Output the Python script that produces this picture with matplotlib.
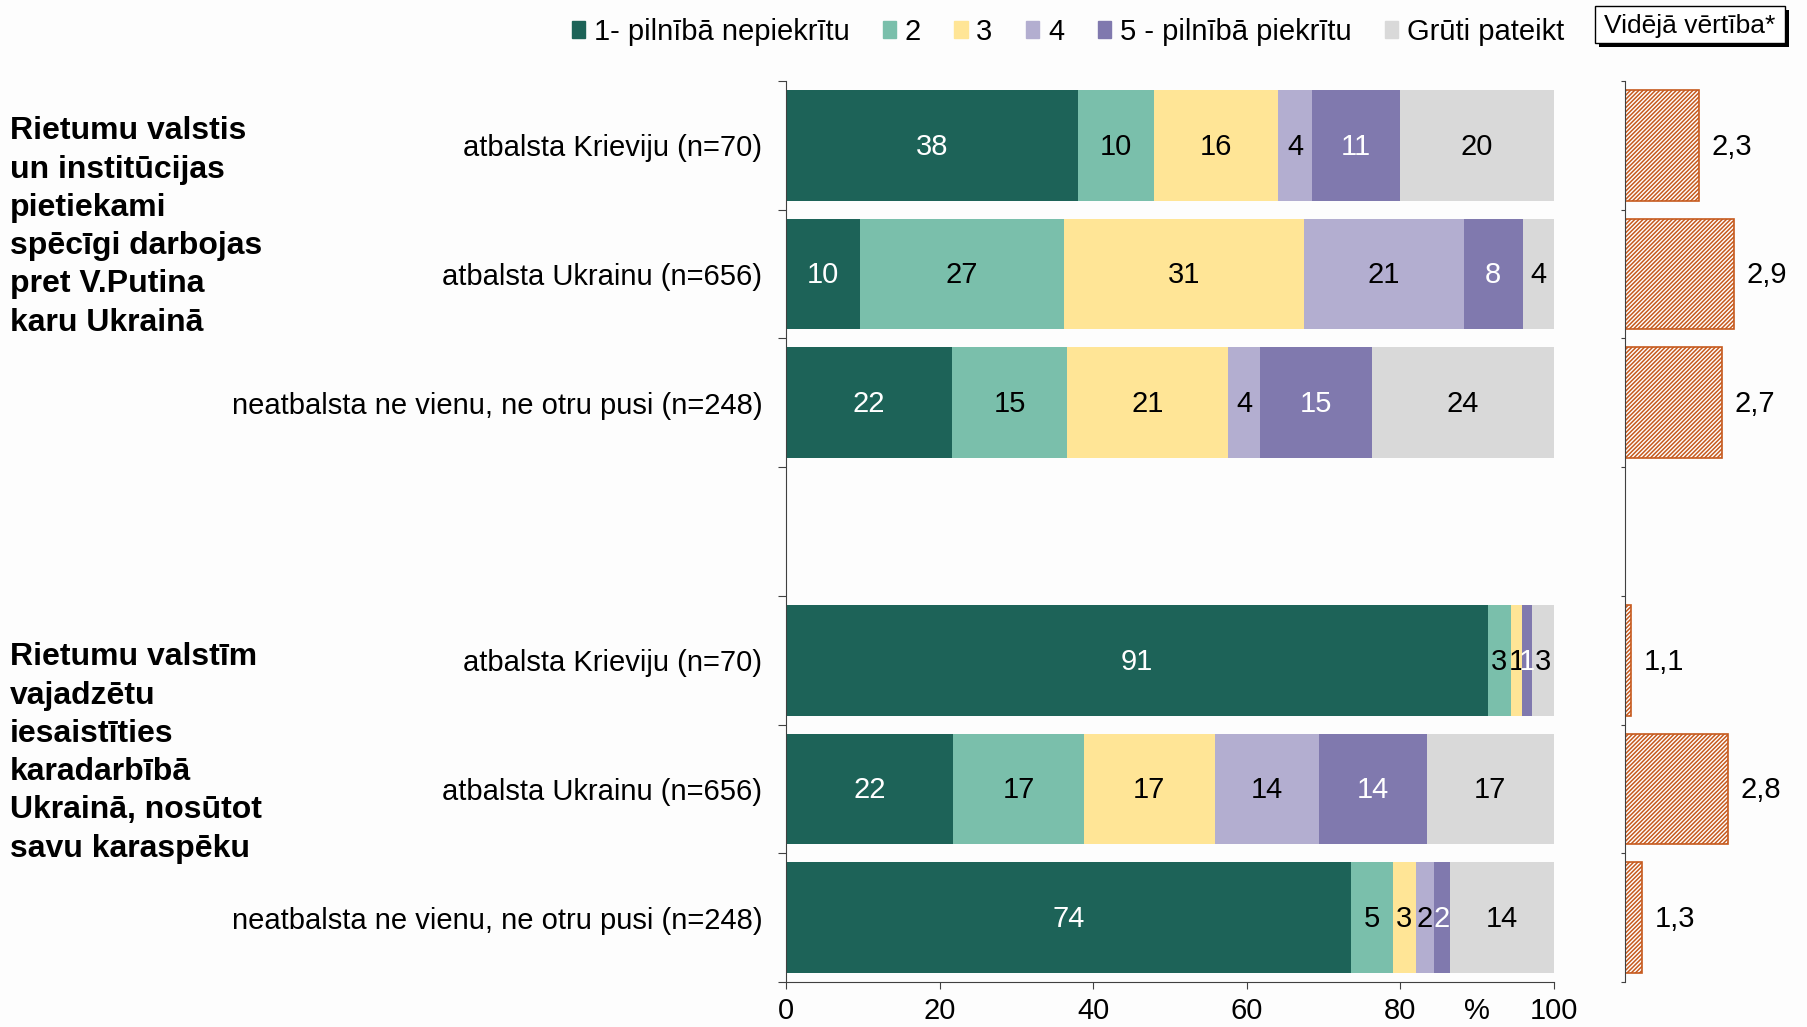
import matplotlib
matplotlib.use("Agg")
import matplotlib.pyplot as plt
from matplotlib.patches import Rectangle
import numpy as np

plt.rcParams['font.family'] = ['Liberation Sans', 'DejaVu Sans']
plt.rcParams['hatch.linewidth'] = 1.1

# ---------------- data ----------------
legend_labels = ["1- pilnībā nepiekrītu", "2", "3", "4", "5 - pilnībā piekrītu", "Grūti pateikt"]
colors = ["#1d6358", "#7abfab", "#ffe596", "#b3aed0", "#8079ae", "#d9d9d9"]
label_colors = ["white", "black", "black", "black", "white", "black"]

row_labels = ["atbalsta Krieviju (n=70)", "atbalsta Ukrainu (n=656)",
              "neatbalsta ne vienu, ne otru pusi (n=248)", "",
              "atbalsta Krieviju (n=70)", "atbalsta Ukrainu (n=656)",
              "neatbalsta ne vienu, ne otru pusi (n=248)"]

s1 = [38.0, 9.6, 21.6, None, 91.4, 21.8, 73.6]
s2 = [9.9, 26.6, 15.0, None, 3.0, 17.0, 5.4]
s3 = [16.2, 31.2, 21.0, None, 1.4, 17.0, 3.0]
s4 = [4.4, 20.9, 4.1, None, 0.0, 13.6, 2.4]
s5 = [11.4, 7.6, 14.6, None, 1.4, 14.0, 2.0]
s6 = [20.1, 4.1, 23.7, None, 2.8, 16.6, 13.6]

means = [2.3, 2.9, 2.7, None, 1.1, 2.8, 1.3]
mean_labels = ["2,3", "2,9", "2,7", "", "1,1", "2,8", "1,3"]

group_labels = ["Rietumu valstis\nun institūcijas\npietiekami\nspēcīgi darbojas\npret V.Putina\nkaru Ukrainā",
                "Rietumu valstīm\nvajadzētu\niesaistīties\nkaradarbībā\nUkrainā, nosūtot\nsavu karaspēku"]

xticks = [0, 20, 40, 60, 80, 100]

# ---------------- figure ----------------
W, H = 1808, 1027
FS = 21
fig = plt.figure(figsize=(W / 100, H / 100), dpi=100, facecolor="#fdfdfd")

def fx(px):
    return px / W

def fy(py):
    return 1 - py / H

ax_top, ax_bot = 81, 982
ax = fig.add_axes([fx(786), fy(ax_bot), fx(1554 - 786), (ax_bot - ax_top) / H])
ax.set_facecolor("#fdfdfd")
ax2 = fig.add_axes([fx(1625), fy(ax_bot), fx(1808 - 1625), (ax_bot - ax_top) / H])
ax2.patch.set_alpha(0)

series = [s1, s2, s3, s4, s5, s6]
bar_h = 0.86
n = len(row_labels)
for i in range(n):
    if s1[i] is None:
        continue
    left = 0.0
    for k, s in enumerate(series):
        v = s[i]
        if v > 0:
            ax.barh(i, v, left=left, height=bar_h, color=colors[k], edgecolor="none")
            ax.text(left + v / 2, i + 0.01, f"{round(v)}", ha="center", va="center",
                    fontsize=FS, color=label_colors[k])
        left += v

ax.set_xlim(0, 100)
ax.set_ylim(n - 0.5, -0.5)
for sp in ["top", "right"]:
    ax.spines[sp].set_visible(False)
ax.spines["left"].set_color("#404040")
ax.spines["bottom"].set_color("#404040")
ax.set_xticks(xticks)
ax.set_xticklabels([str(t) for t in xticks], fontsize=FS)
ax.tick_params(axis="x", length=5, pad=6, color="#404040")
ax.annotate("%", xy=(90, 0), xycoords=ax.get_xaxis_transform(), xytext=(0, -11),
            textcoords="offset points", ha="center", va="top", fontsize=FS)

ax.set_yticks(np.arange(-0.5, n, 1.0))
ax.set_yticklabels([])
ax.tick_params(axis="y", which="major", length=6, direction="out", color="#404040")
ax.set_yticks(np.arange(n), minor=True)
ax.set_yticklabels(row_labels, minor=True, fontsize=FS)
ax.tick_params(axis="y", which="minor", length=0, pad=17)

# mean panel
for i in range(n):
    if means[i] is None:
        continue
    ax2.barh(i, means[i] - 1, left=1, height=bar_h, facecolor="white",
             edgecolor="#c65a1e", hatch="////////", linewidth=1.2)
    ax2.text(means[i] + 0.22, i + 0.01, mean_labels[i], ha="left", va="center", fontsize=FS)
ax2.set_xlim(1, 4.2)
ax2.set_ylim(n - 0.5, -0.5)
for sp in ["top", "right", "bottom"]:
    ax2.spines[sp].set_visible(False)
ax2.spines["left"].set_color("#404040")
ax2.set_xticks([])
ax2.set_yticks(np.arange(-0.5, n, 1.0))
ax2.set_yticklabels([])
ax2.tick_params(axis="y", length=3, color="#404040")

# group labels
fig.text(fx(10), fy(227), group_labels[0], ha="left", va="center", fontsize=23,
         fontweight="bold", linespacing=1.36)
fig.text(fx(10), fy(753), group_labels[1], ha="left", va="center", fontsize=23,
         fontweight="bold", linespacing=1.36)

# legend
handles = [Rectangle((0, 0), 1, 1, color=c) for c in colors]
fig.legend(handles, legend_labels, loc="center left", bbox_to_anchor=(fx(560), fy(32)),
           ncol=6, frameon=False, fontsize=FS, handlelength=0.45, handleheight=0.55,
           handletextpad=0.3, columnspacing=1.15, borderaxespad=0)

# "Vidējā vērtība*" box with shadow
bx0, by0, bx1, by1 = 1595, 6, 1785, 43
fig.patches.append(Rectangle((fx(bx0 + 4), fy(by1 + 4)), fx(bx1 - bx0), (by1 - by0) / H,
                             transform=fig.transFigure, facecolor="black", edgecolor="none"))
fig.patches.append(Rectangle((fx(bx0), fy(by1)), fx(bx1 - bx0), (by1 - by0) / H,
                             transform=fig.transFigure, facecolor="white", edgecolor="black", lw=1))
fig.text(fx((bx0 + bx1) / 2), fy((by0 + by1) / 2 + 1), "Vidējā vērtība*", ha="center", va="center",
         fontsize=19)

fig.savefig("out.png", dpi=100, facecolor=fig.get_facecolor())
